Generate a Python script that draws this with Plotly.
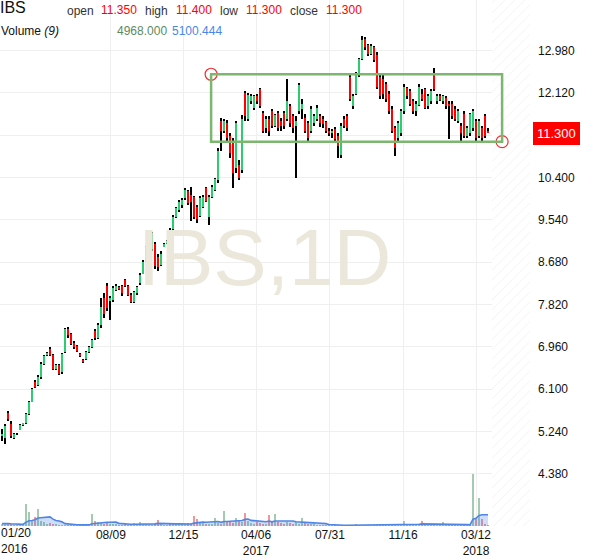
import plotly.graph_objects as go
import pandas as pd

symbol = "IBS"
interval = "1D"

opens = [5.15, 5.10, 5.62, 5.40, 5.10, 5.20, 5.28, 5.38, 5.42, 5.60,
         5.85, 6.25, 6.18, 6.35, 6.62, 6.80, 6.92, 6.80, 6.52, 6.60,
         6.45, 6.85, 7.33, 7.22, 7.05, 6.98, 6.82, 6.70, 6.72, 6.85,
         6.95, 7.28, 7.15, 7.40, 7.95, 8.20, 7.90, 7.92, 8.12, 8.18,
         8.20, 8.32, 8.20, 8.02, 7.88, 8.05, 8.25, 8.45, 8.70, 8.92,
         8.95, 9.05, 8.78, 8.62, 9.00, 9.08, 9.30, 9.35, 9.60, 9.75,
         9.85, 9.98, 10.12, 10.05, 10.00, 9.80, 9.62, 9.80, 10.18, 9.60,
         10.00, 10.15, 10.35, 11.55, 11.35, 11.50, 11.25, 11.15, 10.60, 10.65,
         10.55, 12.12, 11.60, 11.95, 11.82, 12.05, 12.20, 11.72, 11.40, 11.60,
         11.75, 11.45, 11.72, 11.55, 11.72, 11.60, 11.85, 11.65, 11.45, 11.75,
         11.80, 11.62, 11.50, 11.35, 11.50, 11.60, 11.65, 11.60, 11.52, 11.35,
         11.30, 11.38, 11.25, 10.85, 11.60, 11.65, 12.45, 11.85, 12.10, 12.48,
         12.80, 13.22, 13.10, 12.92, 13.05, 12.90, 12.45, 12.40, 12.30, 12.10,
         11.80, 11.40, 11.20, 11.30, 11.75, 12.22, 12.15, 11.95, 11.75, 11.88,
         12.10, 12.20, 11.85, 11.95, 12.50, 11.95, 12.05, 11.95, 12.02, 11.90,
         11.90, 11.80, 11.55, 11.45, 11.70, 11.25, 11.30, 11.40, 11.55, 11.25,
         11.40, 11.65, 11.35]
highs = [5.30, 5.40, 5.65, 5.45, 5.22, 5.22, 5.40, 5.42, 5.62, 5.87,
         6.12, 6.28, 6.38, 6.66, 6.80, 6.86, 6.95, 6.82, 6.62, 6.62,
         6.84, 7.35, 7.36, 7.25, 7.08, 7.00, 6.84, 6.72, 6.88, 6.98,
         7.12, 7.32, 7.45, 7.95, 8.05, 8.25, 8.00, 8.20, 8.24, 8.20,
         8.22, 8.35, 8.22, 8.05, 8.10, 8.20, 8.46, 8.72, 9.02, 8.95,
         9.30, 9.10, 8.85, 8.90, 9.08, 9.14, 9.38, 9.64, 9.80, 9.95,
         9.98, 10.18, 10.15, 10.20, 10.02, 9.85, 10.02, 10.05, 10.20, 10.05,
         10.25, 10.40, 11.00, 11.62, 11.60, 11.58, 11.30, 11.20, 11.55, 10.75,
         11.68, 12.16, 12.12, 12.10, 12.08, 12.10, 12.22, 11.75, 11.65, 11.65,
         11.80, 11.70, 11.75, 11.62, 11.75, 12.40, 11.90, 11.70, 11.65, 12.32,
         12.00, 11.70, 11.55, 11.85, 11.70, 11.88, 11.70, 11.65, 11.55, 11.40,
         11.38, 11.42, 11.30, 11.50, 11.65, 11.70, 12.50, 12.10, 12.55, 12.82,
         13.28, 13.26, 13.12, 13.12, 13.08, 12.95, 12.50, 12.50, 12.35, 12.15,
         11.85, 11.45, 11.55, 11.80, 12.30, 12.25, 12.20, 12.00, 11.95, 12.30,
         12.20, 12.22, 12.10, 12.20, 12.62, 12.10, 12.10, 12.08, 12.05, 11.95,
         11.95, 11.85, 11.80, 11.50, 11.75, 11.45, 11.72, 11.80, 11.60, 11.60,
         11.45, 11.70, 11.40]
lows = [5.05, 4.98, 5.45, 5.10, 5.08, 5.18, 5.27, 5.36, 5.40, 5.58,
        5.84, 6.12, 6.16, 6.30, 6.60, 6.78, 6.78, 6.50, 6.50, 6.38,
        6.42, 6.84, 7.15, 7.00, 6.92, 6.85, 6.75, 6.64, 6.70, 6.84,
        6.93, 7.10, 7.12, 7.35, 7.55, 7.70, 7.50, 7.88, 8.10, 8.12,
        8.00, 8.18, 8.00, 7.85, 7.86, 8.02, 8.22, 8.44, 8.68, 8.78,
        8.90, 8.55, 8.50, 8.60, 8.98, 9.05, 8.80, 9.32, 9.58, 9.70,
        9.78, 9.95, 9.85, 9.52, 9.55, 9.48, 9.60, 9.78, 9.90, 9.44,
        9.98, 10.12, 10.30, 10.95, 11.30, 11.15, 10.80, 10.18, 10.50, 10.35,
        10.50, 11.55, 11.55, 11.90, 11.78, 11.90, 11.82, 11.30, 11.30, 11.25,
        11.40, 11.42, 11.35, 11.35, 11.38, 11.55, 11.42, 11.30, 10.40, 11.70,
        11.60, 11.30, 11.10, 11.30, 11.45, 11.55, 11.42, 11.40, 11.30, 11.25,
        11.20, 11.15, 10.79, 10.79, 11.40, 11.35, 11.95, 11.80, 12.08, 12.45,
        12.78, 13.00, 12.88, 12.90, 12.75, 12.20, 12.00, 12.00, 11.93, 11.70,
        11.30, 10.83, 11.15, 11.25, 11.70, 12.00, 11.85, 11.70, 11.65, 11.85,
        11.95, 11.80, 11.80, 11.90, 12.15, 11.90, 11.95, 11.90, 11.80, 11.19,
        11.60, 11.55, 11.50, 11.15, 11.20, 11.20, 11.25, 11.35, 11.15, 11.20,
        11.15, 11.20, 11.30]
closes = [5.20, 5.35, 5.50, 5.15, 5.20, 5.20, 5.38, 5.40, 5.60, 5.85,
          6.10, 6.15, 6.35, 6.62, 6.78, 6.84, 6.80, 6.52, 6.60, 6.42,
          6.82, 7.33, 7.20, 7.02, 6.95, 6.88, 6.78, 6.66, 6.85, 6.95,
          7.10, 7.15, 7.40, 7.78, 7.62, 7.75, 7.95, 8.15, 8.20, 8.15,
          8.05, 8.20, 8.02, 7.88, 8.08, 8.18, 8.42, 8.68, 9.00, 8.80,
          9.28, 8.60, 8.58, 8.85, 9.05, 9.12, 9.15, 9.60, 9.78, 9.90,
          9.95, 10.15, 9.88, 9.90, 9.60, 9.55, 9.98, 10.00, 9.92, 10.00,
          10.20, 10.38, 10.95, 11.35, 11.55, 11.20, 10.90, 10.50, 11.50, 10.40,
          11.60, 11.65, 12.08, 12.05, 12.05, 11.95, 11.85, 11.35, 11.60, 11.35,
          11.45, 11.68, 11.40, 11.45, 11.45, 11.95, 11.50, 11.40, 11.55, 12.28,
          11.90, 11.35, 11.20, 11.80, 11.65, 11.82, 11.50, 11.48, 11.35, 11.30,
          11.35, 11.18, 11.05, 11.45, 11.45, 11.40, 12.00, 12.05, 12.50, 12.80,
          13.20, 13.05, 12.92, 13.08, 12.78, 12.25, 12.05, 12.10, 12.00, 11.75,
          11.35, 11.00, 11.50, 11.75, 12.25, 12.05, 11.90, 11.75, 11.90, 12.25,
          12.00, 11.82, 12.05, 12.15, 12.20, 12.05, 11.98, 12.05, 11.85, 11.85,
          11.65, 11.60, 11.75, 11.30, 11.25, 11.40, 11.70, 11.75, 11.20, 11.55,
          11.20, 11.25, 11.30]
volumes = [12000, 15000, 9000, 8000, 6000, 5000, 7000, 6000, 110000, 70000,
           30000, 45000, 85000, 25000, 20000, 12000, 15000, 10000, 8000, 7000,
           6000, 5000, 6000, 5000, 4000, 5000, 4000, 5000, 4000, 12000,
           60000, 25000, 20000, 15000, 12000, 15000, 10000, 8000, 9000, 6000,
           7000, 8000, 6000, 10000, 15000, 9000, 20000, 8000, 10000, 7000,
           6000, 12000, 30000, 8000, 7000, 6000, 10000, 8000, 9000, 12000,
           8000, 10000, 15000, 10000, 50000, 35000, 20000, 15000, 10000, 8000,
           12000, 40000, 15000, 10000, 75000, 20000, 25000, 15000, 40000, 30000,
           20000, 65000, 25000, 15000, 12000, 20000, 15000, 12000, 10000, 55000,
           25000, 60000, 20000, 15000, 12000, 18000, 15000, 10000, 20000, 12000,
           40000, 15000, 12000, 10000, 8000, 7000, 6000, 5000, 4000, 4000,
           3000, 3000, 4000, 3000, 5000, 4000, 6000, 5000, 8000, 5000,
           6000, 5000, 4000, 5000, 4000, 6000, 5000, 4000, 5000, 8000,
           6000, 10000, 8000, 5000, 25000, 10000, 8000, 6000, 5000, 4000,
           25000, 8000, 6000, 7000, 10000, 6000, 8000, 20000, 7000, 6000,
           5000, 6000, 5000, 6000, 5000, 4000, 10000, 265000, 40000, 140000,
           35000, 8000, 4968]
vol_ma_last = 5100.444
ma_period = 9

tick_labels = ["08/09", "12/15", "04/06<br>2017", "07/31", "11/16", "03/12<br>2018"]
tick_index = [36.3, 60.5, 84.7, 109.3, 133.7, 158.0]
first_label = "01/20<br>2016"
price_ticks = [4.38, 5.24, 6.10, 6.96, 7.82, 8.68, 9.54, 10.40, 11.26, 12.12, 12.98]

box_start, box_end = 69.7, 166.7
box_low, box_high = 11.13, 12.50

# ---------------------------------------------------------------
N = len(closes)
xs = list(range(N))
X_MIN, X_MAX = -0.667, 176.0
Y_MIN, Y_MAX = 3.322, 14.008
PW, PH = 530.0, 531.0
FONT = "Liberation Sans, Arial, sans-serif"

GREEN = "#2ecc71"
RED = "#ff0000"

body_base = [min(o, c) for o, c in zip(opens, closes)]
body_h = [abs(c - o) for o, c in zip(opens, closes)]
body_col = [GREEN if c > o else (RED if c < o else "#000000") for o, c in zip(opens, closes)]
wick_h = [h - l for h, l in zip(highs, lows)]
vol_col = ["rgba(90,160,110,0.55)" if c >= o else "rgba(235,80,80,0.6)" for o, c in zip(opens, closes)]
vol_ma = pd.Series(volumes).rolling(ma_period, min_periods=1).mean().tolist()

# the current-price tag covers the tick label at its level
last_close = closes[-1]
tick_text = ["" if abs(v - last_close) < 0.1 else f"{v:.3f}" for v in price_ticks]

fig = go.Figure()

# watermark
fig.add_trace(go.Scatter(x=[87.5], y=[8.62], mode="text", text=[f"{symbol},{interval}"],
                         textfont=dict(size=80, color="#ebe7db", family=FONT),
                         hoverinfo="skip", cliponaxis=False))

# hatched future region
hatch_x0, hatch_x1 = 163.3, X_MAX
fig.add_trace(go.Bar(x=[(hatch_x0 + hatch_x1) / 2], y=[Y_MAX - Y_MIN], base=[Y_MIN],
                     width=[hatch_x1 - hatch_x0],
                     marker=dict(color="white", line=dict(width=0),
                                 pattern=dict(shape="/", fgcolor="#e2e2e2", bgcolor="white",
                                              size=7, solidity=0.12)),
                     hoverinfo="skip"))

# volume
fig.add_trace(go.Bar(x=xs, y=volumes, width=0.6, marker=dict(color=vol_col, line=dict(width=0)),
                     yaxis="y2", hoverinfo="skip"))
fig.add_trace(go.Scatter(x=xs, y=vol_ma, mode="lines", yaxis="y2",
                         line=dict(color="#4f86e6", width=1.6), fill="tozeroy",
                         fillcolor="rgba(79,134,230,0.28)", hoverinfo="skip"))

# wicks and bodies
fig.add_trace(go.Bar(x=xs, y=wick_h, base=lows, width=0.55,
                     marker=dict(color="#000000", line=dict(width=0)), hoverinfo="skip"))
fig.add_trace(go.Bar(x=xs, y=body_h, base=body_base, width=0.55,
                     marker=dict(color=body_col, line=dict(width=0)), hoverinfo="skip"))

# box corner handles
fig.add_trace(go.Scatter(x=[box_start, box_end], y=[box_high, box_low], mode="markers",
                         marker=dict(size=12, color="rgba(255,255,255,0.35)",
                                     line=dict(color="#f03030", width=1.2)),
                         cliponaxis=False, hoverinfo="skip"))

# current price notch
fig.add_trace(go.Scatter(x=[X_MAX + 0.8], y=[last_close], mode="markers",
                         marker=dict(symbol="triangle-left", size=7, color=RED),
                         cliponaxis=False, hoverinfo="skip"))

fig.add_shape(type="rect", xref="x", yref="y", x0=box_start, x1=box_end, y0=box_low, y1=box_high,
              line=dict(color="#7cb66f", width=2.5), layer="above")

anns = []


def txt(px, py, text, color="#333333", size=12):
    anns.append(dict(x=px / PW, y=1 - py / PH, xref="paper", yref="paper", text=text,
                     showarrow=False, xanchor="left", yanchor="middle", align="left",
                     font=dict(family=FONT, size=size, color=color), borderpad=0))


txt(-1, 8, symbol, "#111111", 16)
hdr = [("open", f"{opens[-1]:.3f}", 66, 100), ("high", f"{highs[-1]:.3f}", 144, 175),
       ("low", f"{lows[-1]:.3f}", 219, 245), ("close", f"{closes[-1]:.3f}", 289, 325)]
for lab, val, lx, vx in hdr:
    txt(lx, 11, lab, "#333333", 12)
    txt(vx, 10, val, RED, 12)
txt(0, 31, "Volume <i>(" + str(ma_period) + ")</i>", "#111111", 12)
txt(116, 31, f"{volumes[-1]:.3f}", "#5b8a63", 12)
txt(171, 31, f"{vol_ma_last:.3f}", "#4a86e8", 12)

# first date label
anns.append(dict(x=0, y=1 - 529.5 / PH, xref="paper", yref="paper", text=first_label,
                 showarrow=False, xanchor="left", yanchor="top", align="left",
                 font=dict(family=FONT, size=12, color="#111111"), borderpad=0))

# current price tag
anns.append(dict(x=1, y=last_close, xref="paper", yref="y", xshift=3,
                 text=f"{last_close:.3f}", showarrow=False, xanchor="left", yanchor="middle",
                 bgcolor=RED, bordercolor=RED, borderpad=3,
                 font=dict(family=FONT, size=13, color="white")))

fig.update_layout(
    width=600, height=558,
    margin=dict(l=0, r=70, t=0, b=27),
    paper_bgcolor="white", plot_bgcolor="white",
    showlegend=False, barmode="overlay", bargap=0,
    hovermode=False,
    annotations=anns,
    xaxis=dict(range=[X_MIN, X_MAX], tickvals=tick_index, ticktext=tick_labels,
               showgrid=True, gridcolor="#efefef", gridwidth=1, zeroline=False,
               showline=False, ticks="", tickfont=dict(family=FONT, size=12, color="#111111")),
    yaxis=dict(range=[Y_MIN, Y_MAX], side="right", tickvals=price_ticks,
               ticktext=tick_text,
               showgrid=True, gridcolor="#efefef", gridwidth=1, zeroline=False,
               showline=False, ticks="", ticklabelstandoff=7,
               tickfont=dict(family=FONT, size=12, color="#111111")),
    yaxis2=dict(range=[0, 531 * 5000], overlaying="y", visible=False),
)

fig.write_html("out.html", config={"displayModeBar": False},
               post_script="document.body.style.margin='0';document.body.style.padding='0';")
